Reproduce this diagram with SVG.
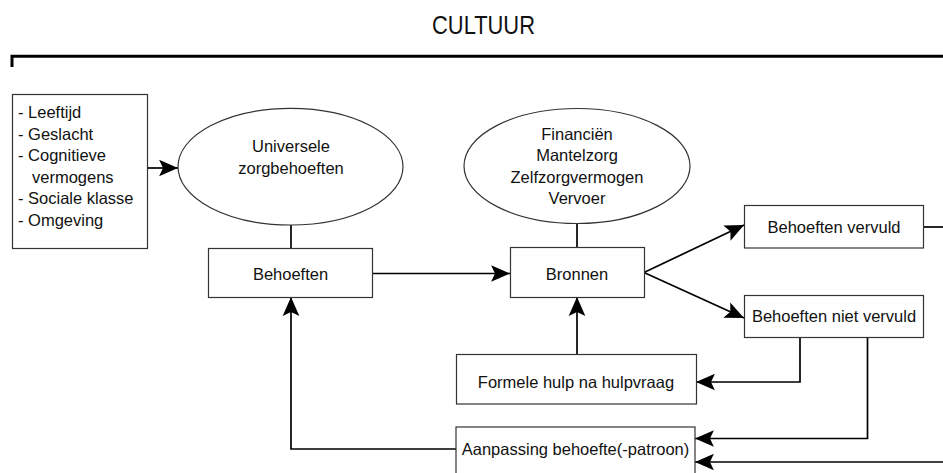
<svg xmlns="http://www.w3.org/2000/svg" width="943" height="473" viewBox="0 0 943 473">
<style>
  .box { fill: #ffffff; stroke: #333333; stroke-width: 1.2; }
  .t { font-family: "Liberation Sans", Arial, sans-serif; font-size: 16.5px; fill: #111111; }
  .c { text-anchor: middle; }
  .title { font-size: 25px; }
  .edge { fill: none; stroke: #000000; stroke-width: 1.7; }
</style>
<defs>
  <marker id="arr" markerUnits="userSpaceOnUse" markerWidth="20" markerHeight="18" viewBox="-17 -8 18 16" refX="0" refY="0" orient="auto">
    <path d="M0,0 L-17,-7.5 L-13.5,0 L-17,7.5 Z" fill="#000000"/>
  </marker>
</defs>
<rect x="0" y="0" width="943" height="473" fill="#ffffff"/>

<g id="cultuur">
  <text class="t c title" x="483.5" y="33.5" textLength="103" lengthAdjust="spacingAndGlyphs">CULTUUR</text>
  <path d="M12,67 L12,56.3 L943,56.3" fill="none" stroke="#000" stroke-width="3"/>
</g>

<g id="edges">
  <line class="edge" x1="148" y1="168" x2="178" y2="168" marker-end="url(#arr)"/>
  <line class="edge" x1="291" y1="225" x2="291" y2="248" stroke-width="1.3"/>
  <line class="edge" x1="577" y1="224" x2="577" y2="247" stroke-width="1.3"/>
  <line class="edge" x1="373" y1="273.5" x2="510" y2="273.5" marker-end="url(#arr)"/>
  <line class="edge" x1="644" y1="272.5" x2="744" y2="225" marker-end="url(#arr)"/>
  <line class="edge" x1="644" y1="272.5" x2="744" y2="318" marker-end="url(#arr)"/>
  <line class="edge" x1="924" y1="227" x2="943" y2="227" stroke-width="1.3"/>
  <line class="edge" x1="577" y1="354" x2="577" y2="297" marker-end="url(#arr)"/>
  <polyline class="edge" points="800,338 800,382 696,382" marker-end="url(#arr)"/>
  <polyline class="edge" points="867.5,338 867.5,438.5 695,438.5" marker-end="url(#arr)"/>
  <line class="edge" x1="943" y1="462" x2="695" y2="462" marker-end="url(#arr)"/>
  <polyline class="edge" points="456,449 291,449 291,297" marker-end="url(#arr)"/>
</g>

<g id="factoren">
  <rect class="box" x="12.5" y="94.5" width="135" height="154"/>
  <text class="t" x="18" y="118">- Leeftijd</text>
  <text class="t" x="18" y="140">- Geslacht</text>
  <text class="t" x="18" y="161">- Cognitieve</text>
  <text class="t" x="32" y="182.5">vermogens</text>
  <text class="t" x="18" y="204">- Sociale klasse</text>
  <text class="t" x="18" y="226">- Omgeving</text>
</g>

<g id="universele">
  <ellipse class="box" cx="290.5" cy="166.7" rx="112.5" ry="58.3"/>
  <text class="t c" x="291" y="152">Universele</text>
  <text class="t c" x="291" y="173.5">zorgbehoeften</text>
</g>

<g id="middelen">
  <ellipse class="box" cx="577" cy="166" rx="113" ry="57.5"/>
  <text class="t c" x="577" y="139.5">Financiën</text>
  <text class="t c" x="577" y="161">Mantelzorg</text>
  <text class="t c" x="577" y="182.5">Zelfzorgvermogen</text>
  <text class="t c" x="577" y="204">Vervoer</text>
</g>

<g id="behoeften">
  <rect class="box" x="208.5" y="248.5" width="164" height="49"/>
  <text class="t c" x="290.5" y="279.5">Behoeften</text>
</g>

<g id="bronnen">
  <rect class="box" x="510.5" y="247.5" width="134" height="50"/>
  <text class="t c" x="577" y="280">Bronnen</text>
</g>

<g id="vervuld">
  <rect class="box" x="744.5" y="205.5" width="179" height="42.5"/>
  <text class="t c" x="834" y="233">Behoeften vervuld</text>
</g>

<g id="nietvervuld">
  <rect class="box" x="744.5" y="295.5" width="179" height="42"/>
  <text class="t c" x="834" y="322">Behoeften niet vervuld</text>
</g>

<g id="formele">
  <rect class="box" x="456.5" y="354.5" width="240" height="49.5"/>
  <text class="t c" x="576" y="388">Formele hulp na hulpvraag</text>
</g>

<g id="aanpassing">
  <rect class="box" x="456" y="427" width="239" height="60"/>
  <text class="t c" x="575.5" y="455">Aanpassing behoefte(-patroon)</text>
</g>
</svg>
